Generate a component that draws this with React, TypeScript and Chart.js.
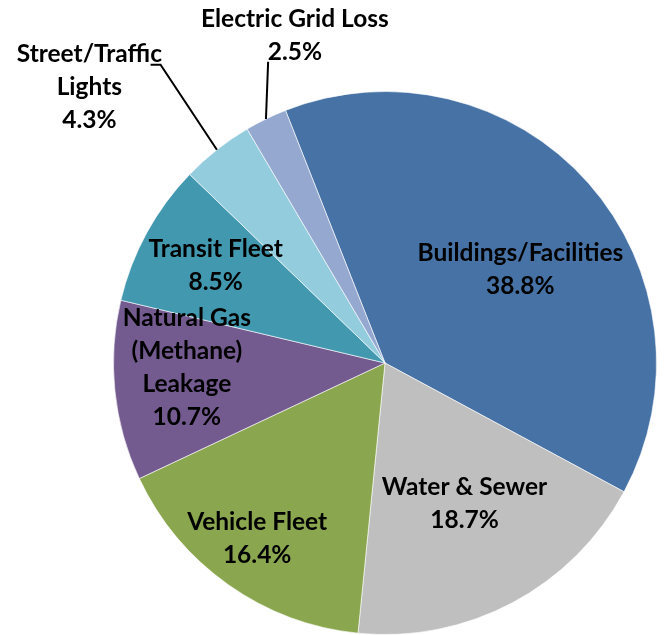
import React, { useEffect, useRef } from "react";
import { Chart, registerables } from "chart.js";

Chart.register(...registerables);

const categories = [
  "Buildings/Facilities",
  "Water & Sewer",
  "Vehicle Fleet",
  "Natural Gas (Methane) Leakage",
  "Transit Fleet",
  "Street/Traffic Lights",
  "Electric Grid Loss",
];
const shares = [38.8, 18.7, 16.4, 10.7, 8.5, 4.3, 2.5];
const labelLines = [
  ["Buildings/Facilities"],
  ["Water & Sewer"],
  ["Vehicle Fleet"],
  ["Natural Gas", "(Methane)", "Leakage"],
  ["Transit Fleet"],
  ["Street/Traffic", "Lights"],
  ["Electric Grid Loss"],
];
const colors = ["#4672A6", "#BFBFBF", "#8AA64F", "#735A8F", "#4299AF", "#93CDDD", "#95A9D0"];

// label placement: angle offset from slice middle (deg), radius fraction
const placements = [
  { da: 7.1, f: 0.605 },
  { da: -1.5, f: 0.595 },
  { da: 0.8, f: 0.8 },
  { da: 4.7, f: 0.73 },
  { da: 1.3, f: 0.72 },
  { da: -8.7, f: 1.49, leader: { f0: 1.0, f1: 1.375, da1: 1.3, tick: -10 } },
  { da: 10.6, f: 1.25, leader: { f0: 1.0, f1: 1.19, da1: 4.8, tick: 0 } },
];

const FONT = "bold 24.5px Lato";
const LINE_H = 33;

const labelPlugin = {
  id: "sliceLabels",
  afterDatasetsDraw(chart: any) {
    const ctx = chart.ctx;
    const meta = chart.getDatasetMeta(0);
    ctx.save();
    ctx.font = FONT;
    ctx.fillStyle = "#000";
    ctx.textAlign = "center";
    ctx.textBaseline = "middle";
    meta.data.forEach((arc: any, i: number) => {
      const { x, y, startAngle, endAngle, outerRadius } = arc.getProps(
        ["x", "y", "startAngle", "endAngle", "outerRadius"],
        true
      );
      const mid = (startAngle + endAngle) / 2;
      const p = placements[i];
      const a = mid + (p.da * Math.PI) / 180;
      const cx = x + Math.cos(a) * outerRadius * p.f;
      const cy = y + Math.sin(a) * outerRadius * p.f;
      const lines = [...labelLines[i], shares[i].toFixed(1) + "%"];
      lines.forEach((t, k) => {
        ctx.fillText(t, cx, cy + (k - (lines.length - 1) / 2) * LINE_H);
      });
      if (p.leader) {
        const L = p.leader;
        const a1 = mid + (L.da1 * Math.PI) / 180;
        const x0 = x + Math.cos(mid) * outerRadius * L.f0;
        const y0 = y + Math.sin(mid) * outerRadius * L.f0;
        const x1 = x + Math.cos(a1) * outerRadius * L.f1;
        const y1 = y + Math.sin(a1) * outerRadius * L.f1;
        ctx.beginPath();
        ctx.strokeStyle = "#000";
        ctx.lineWidth = 2;
        ctx.moveTo(x0, y0);
        ctx.lineTo(x1, y1);
        if (L.tick) ctx.lineTo(x1 + L.tick, y1);
        ctx.stroke();
      }
    });
    ctx.restore();
  },
};

export default function App() {
  const ref = useRef<HTMLCanvasElement | null>(null);
  useEffect(() => {
    if (!ref.current) return;
    const chart = new Chart(ref.current, {
      type: "pie",
      data: {
        labels: categories,
        datasets: [
          {
            data: shares,
            backgroundColor: colors,
            borderColor: "rgba(255,255,255,0.6)",
            borderWidth: 1,
          },
        ],
      },
      options: {
        responsive: false,
        animation: false,
        devicePixelRatio: 1,
        rotation: -21.5,
        layout: { padding: { left: 113, right: 7, top: 91, bottom: 0 } },
        plugins: {
          legend: { display: false },
          tooltip: { enabled: false },
          title: { display: false },
        },
      },
      plugins: [labelPlugin],
    });
    return () => chart.destroy();
  }, []);
  return (
    <div style={{ position: "absolute", left: 0, top: 0, width: 664, height: 635, background: "#fff" }}>
      <canvas ref={ref} width={664} height={635} />
    </div>
  );
}
